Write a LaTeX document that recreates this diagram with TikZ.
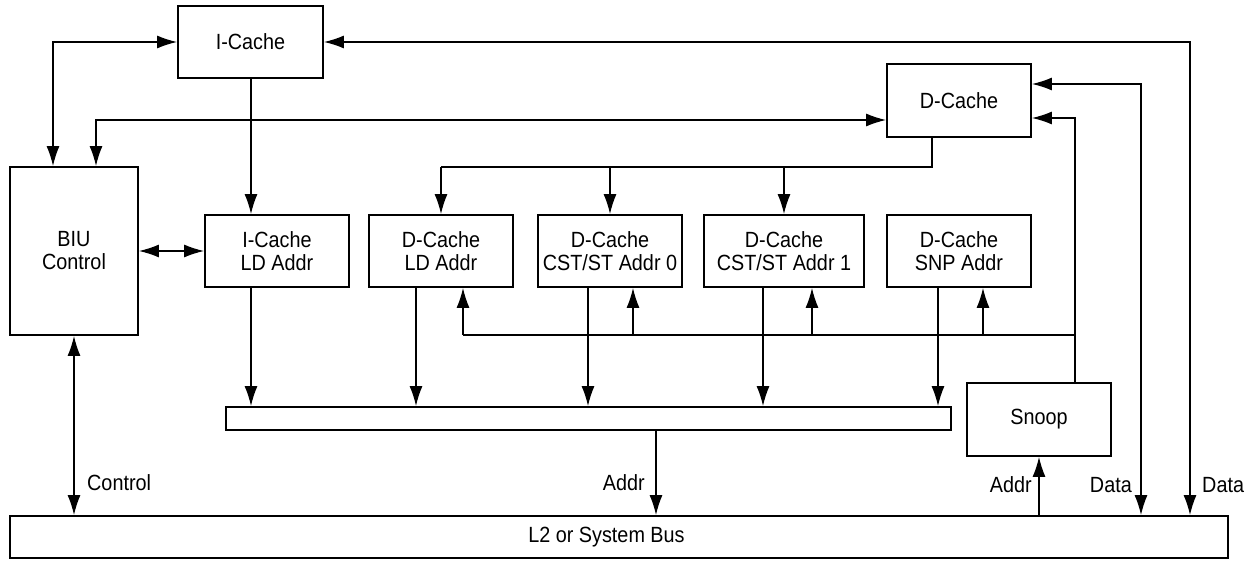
\documentclass[tikz,border=0pt]{standalone}
\usepackage{fontspec}
\setmainfont{Liberation Sans}[FakeStretch=0.9]
\usetikzlibrary{arrows.meta,calc}
\begin{document}
\begin{tikzpicture}[x=1pt,y=-1pt,
  box/.style={draw,line width=1.9pt,inner sep=0pt,align=center,font=\fontsize{22}{23}\selectfont},
  tip/.tip={Latex[length=20pt,width=13pt]},
  conn/.style={line width=1.2pt,-tip},
  both/.style={line width=1.2pt,tip-tip},
  plain/.style={line width=1.2pt},
  lbl/.style={inner sep=0pt,font=\fontsize{22}{23}\selectfont}]
\useasboundingbox (0,0) rectangle (1251,561);
\fill[white] (0,0) rectangle (1251,561);

% boxes
\node[box,minimum width=145pt,minimum height=72pt] (icache) at (250.5,42) {I-Cache};
\node[box,minimum width=144pt,minimum height=73pt] (dcache) at (959,100.5) {D-Cache};
\node[box,minimum width=128pt,minimum height=168pt] (biu) at (74,251) {BIU\\Control};
\node[box,minimum width=144pt,minimum height=72pt] (icld) at (277,251) {I-Cache\\LD Addr};
\node[box,minimum width=144pt,minimum height=72pt] (dcld) at (441,251) {D-Cache\\LD Addr};
\node[box,minimum width=144pt,minimum height=72pt] (cst0) at (610,251) {D-Cache\\CST/ST Addr 0};
\node[box,minimum width=160pt,minimum height=72pt] (cst1) at (784,251) {D-Cache\\CST/ST Addr 1};
\node[box,minimum width=144pt,minimum height=72pt] (snp) at (959,251) {D-Cache\\SNP Addr};
\node[box,minimum width=725pt,minimum height=23pt] (bar) at (588.5,418.5) {};
\node[box,minimum width=144pt,minimum height=73pt] (snoop) at (1039,419.5) {Snoop};
\node[box,minimum width=1218pt,minimum height=42pt] (bus) at (619,537) {};
\node[lbl] (bustext) at (606.5,537) {L2 or System Bus};

% helper coordinates
\coordinate (x53) at (53,0);
\coordinate (x96) at (96,0);
\coordinate (x251) at (251,0);
\coordinate (x416) at (416,0);
\coordinate (x463) at (463,0);
\coordinate (x588) at (588,0);
\coordinate (x633) at (633,0);
\coordinate (x656) at (656,0);
\coordinate (x763) at (763,0);
\coordinate (x812) at (812,0);
\coordinate (x932) at (932,0);
\coordinate (x938) at (938,0);
\coordinate (x983) at (983,0);
\coordinate (x1075) at (1075,0);
\coordinate (x1141) at (1141,0);
\coordinate (x1190) at (1190,0);
\coordinate (y84) at (0,84);
\coordinate (y118) at (0,118);
\coordinate (y120) at (0,120);
\coordinate (y167) at (0,167);
\coordinate (y335) at (0,335);

% BIU connections
\draw[both] (biu.north -| x53) |- (icache.west);
\draw[both] (biu.north -| x96) |- (dcache.west |- y120);
\draw[both] (biu.east) -- (icld.west);
\draw[both] (biu.south) -- (bus.north -| biu.south);

% I-Cache to I-Cache LD Addr
\draw[conn] (icache.south -| x251) -- (icld.north -| x251);

% D-Cache fan out
\draw[plain] (dcache.south -| x932) -- (x932 |- y167) -- (dcld.north |- y167);
\draw[conn] (dcld.north |- y167) -- (dcld.north);
\draw[conn] (cst0.north |- y167) -- (cst0.north);
\draw[conn] (cst1.north |- y167) -- (cst1.north);

% address units to bar
\draw[conn] (icld.south -| x251) -- (bar.north -| x251);
\draw[conn] (dcld.south -| x416) -- (bar.north -| x416);
\draw[conn] (cst0.south -| x588) -- (bar.north -| x588);
\draw[conn] (cst1.south -| x763) -- (bar.north -| x763);
\draw[conn] (snp.south -| x938) -- (bar.north -| x938);

% snoop feedback
\draw[plain] (x463 |- y335) -- (x1075 |- y335);
\draw[conn] (x463 |- y335) -- (dcld.south -| x463);
\draw[conn] (x633 |- y335) -- (cst0.south -| x633);
\draw[conn] (x812 |- y335) -- (cst1.south -| x812);
\draw[conn] (x983 |- y335) -- (snp.south -| x983);
\draw[conn] (snoop.north -| x1075) |- (dcache.east |- y118);

% data lines
\draw[both] (bus.north -| x1141) |- (dcache.east |- y84);
\draw[both] (bus.north -| x1190) |- (icache.east);

% bus addresses
\draw[conn] (bar.south -| x656) -- (bus.north -| x656);
\draw[conn] (bus.north -| snoop.south) -- (snoop.south);

% labels
\node[lbl,anchor=west] (lctrl) at (87,483) {Control};
\node[lbl,anchor=east] (laddr1) at (645,483) {Addr};
\node[lbl,anchor=east] (laddr2) at (1032,485) {Addr};
\node[lbl,anchor=east] (ldata1) at (1132,485) {Data};
\node[lbl,anchor=west] (ldata2) at (1202,485) {Data};
\end{tikzpicture}
\end{document}
